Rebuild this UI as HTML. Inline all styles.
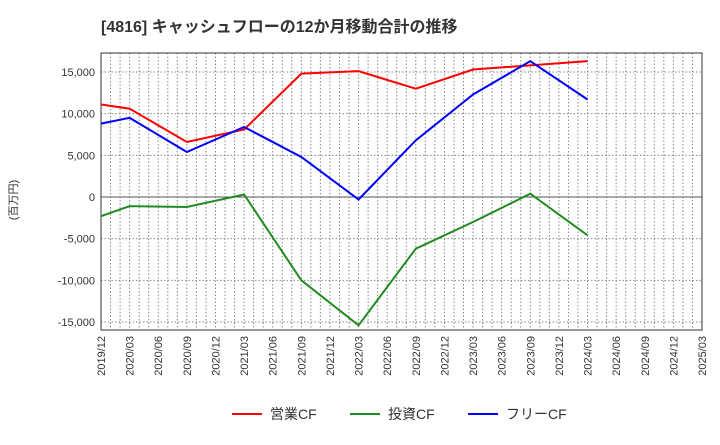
<!DOCTYPE html>
<html><head><meta charset="utf-8"><style>
body{margin:0;background:#fff;font-family:"Liberation Sans","Noto Sans CJK JP",sans-serif;}
</style></head><body>
<svg id="chart" width="720" height="440" xmlns="http://www.w3.org/2000/svg">
<text x="101" y="32" font-size="16" font-weight="bold" fill="#333" font-family="Liberation Sans,Noto Sans CJK JP,sans-serif">[4816]  キャッシュフローの12か月移動合計の推移</text>
<text transform="translate(17,200) rotate(-90)" text-anchor="middle" font-size="11" fill="#333" font-family="Liberation Sans,Noto Sans CJK JP,sans-serif">(百万円)</text>
<g id="grid"></g><g id="axes"></g><g id="series"></g><g id="legend"></g>
</svg>
<script>
const xLabels=["2019/12","2020/03","2020/06","2020/09","2020/12","2021/03","2021/06","2021/09","2021/12","2022/03","2022/06","2022/09","2022/12","2023/03","2023/06","2023/09","2023/12","2024/03","2024/06","2024/09","2024/12","2025/03"];
const yTicks=[-15000,-10000,-5000,0,5000,10000,15000];
const dataDates=["2019/12","2020/03","2020/09","2021/03","2021/09","2022/03","2022/09","2023/03","2023/09","2024/03"];
const operatingCF=[11100,10600,6600,8100,14800,15100,13000,15300,15800,16300];
const investingCF=[-2300,-1100,-1200,300,-10000,-15400,-6200,-3000,400,-4600];
const freeCF=[8800,9500,5400,8400,4800,-300,6800,12300,16300,11700];
const seriesNames=["営業CF","投資CF","フリーCF"];
const seriesColors=["#ff0000","#228b22","#0000ff"];

const NS="http://www.w3.org/2000/svg";
const L=101,R=702,T=53,B=330;
const qw=(R-L)/(xLabels.length-1);
const xOf=d=>{const [y,m]=d.split("/").map(Number);const idx=(y-2019)*12+(m-12);return L+idx*qw/3;};
const yOf=v=>197-v*(197-72)/15000;
function mk(tag,attrs,parent){const e=document.createElementNS(NS,tag);for(const k in attrs)e.setAttribute(k,attrs[k]);parent.appendChild(e);return e;}
const grid=document.getElementById("grid"),axes=document.getElementById("axes"),ser=document.getElementById("series"),leg=document.getElementById("legend");
for(let i=1;i<(xLabels.length-1)*3;i++){const x=L+i*qw/3;
const g=mk("line",{x1:x,x2:x,y1:T,y2:B,stroke:"#888","stroke-dasharray":"1.5,2","stroke-width":1},grid);

}
yTicks.forEach(v=>{const y=yOf(v);
const g=mk("line",{x1:L,x2:R,y1:y,y2:y,stroke:v===0?"#555":"#888","stroke-dasharray":v===0?"none":"1.5,2","stroke-width":1},grid);


const t=mk("text",{x:L-6,y:y+4,"text-anchor":"end","font-size":11,fill:"#333"},axes);t.textContent=v.toLocaleString("en-US");

});
const frame=mk("rect",{x:L,y:T,width:R-L,height:B-T,fill:"none",stroke:"#333","stroke-width":1},axes);


xLabels.forEach(d=>{const x=xOf(d);
const t=mk("text",{transform:`translate(${x+4},${B+6}) rotate(-90)`,"text-anchor":"end","font-size":11,fill:"#333"},axes);t.textContent=d;

});
[operatingCF,investingCF,freeCF].forEach((vals,si)=>{
const pts=vals.map((v,i)=>xOf(dataDates[i])+","+yOf(v)).join(" ");
const p=mk("polyline",{points:pts,fill:"none",stroke:seriesColors[si],"stroke-width":2},ser);

});
const lx=[232,350,468];
seriesNames.forEach((n,i)=>{
const l=mk("line",{x1:lx[i],x2:lx[i]+30,y1:414,y2:414,stroke:seriesColors[i],"stroke-width":2},leg);


const t=mk("text",{x:lx[i]+38,y:419,"font-size":14,fill:"#333"},leg);t.textContent=n;

});
</script>
</body></html>
